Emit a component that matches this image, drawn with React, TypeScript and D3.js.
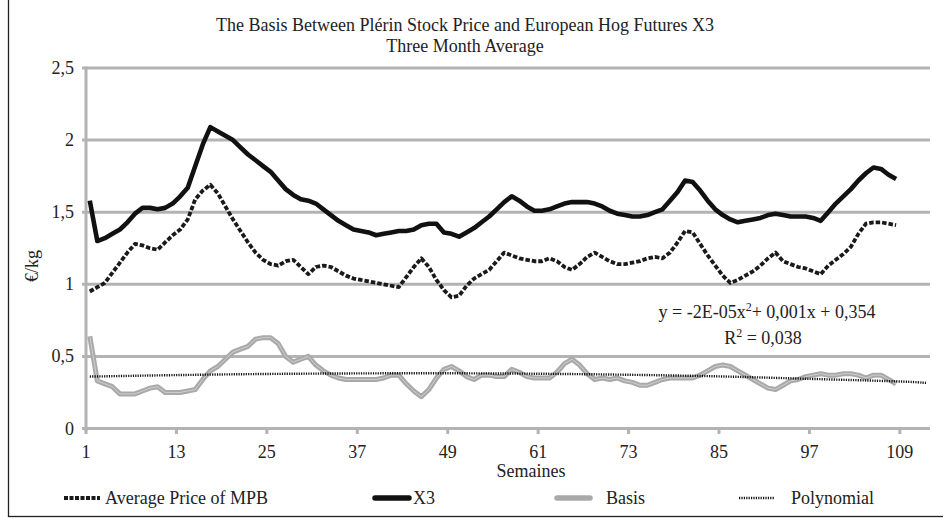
import React, { useEffect, useRef } from "react";
import * as d3 from "d3";

const W = 943;
const H = 519;

// weekly values (weeks 1..108)
const x3 = [
  1.58, 1.30, 1.32, 1.35, 1.38, 1.43, 1.49, 1.53, 1.53, 1.52,
  1.53, 1.56, 1.61, 1.67, 1.82, 1.97, 2.09, 2.06, 2.03, 2.00,
  1.95, 1.90, 1.86, 1.82, 1.78, 1.72, 1.66, 1.62, 1.59, 1.58,
  1.56, 1.52, 1.48, 1.44, 1.41, 1.38, 1.37, 1.36, 1.34, 1.35,
  1.36, 1.37, 1.37, 1.38, 1.41, 1.42, 1.42, 1.36, 1.35, 1.33,
  1.36, 1.39, 1.43, 1.47, 1.52, 1.57, 1.61, 1.58, 1.54, 1.51,
  1.51, 1.52, 1.54, 1.56, 1.57, 1.57, 1.57, 1.56, 1.54, 1.51,
  1.49, 1.48, 1.47, 1.47, 1.48, 1.50, 1.52, 1.58, 1.64, 1.72,
  1.71, 1.65, 1.58, 1.52, 1.48, 1.45, 1.43, 1.44, 1.45, 1.46,
  1.48, 1.49, 1.48, 1.47, 1.47, 1.47, 1.46, 1.44, 1.50, 1.56,
  1.61, 1.66, 1.72, 1.77, 1.81, 1.80, 1.76, 1.73,
];

const mpb = [
  0.95, 0.98, 1.01, 1.08, 1.15, 1.22, 1.28, 1.27, 1.25, 1.24,
  1.29, 1.34, 1.38, 1.45, 1.59, 1.65, 1.69, 1.63, 1.54, 1.45,
  1.37, 1.29, 1.22, 1.17, 1.14, 1.13, 1.16, 1.17, 1.12, 1.07,
  1.12, 1.13, 1.12, 1.09, 1.06, 1.04, 1.03, 1.02, 1.01, 1.00,
  0.99, 0.98, 1.05, 1.12, 1.18, 1.12, 1.03, 0.96, 0.91, 0.92,
  0.99, 1.04, 1.07, 1.10, 1.16, 1.22, 1.20, 1.18, 1.17, 1.16,
  1.16, 1.18, 1.16, 1.12, 1.10, 1.14, 1.19, 1.22, 1.19, 1.16,
  1.14, 1.14, 1.15, 1.16, 1.18, 1.19, 1.18, 1.22, 1.29, 1.37,
  1.36, 1.28, 1.20, 1.13, 1.06, 1.01, 1.03, 1.06, 1.09, 1.13,
  1.18, 1.22, 1.16, 1.14, 1.12, 1.11, 1.09, 1.07, 1.13, 1.17,
  1.21, 1.26, 1.35, 1.42, 1.43, 1.43, 1.42, 1.41,
];

const basis = [
  0.64, 0.33, 0.31, 0.29, 0.24, 0.24, 0.24, 0.26, 0.28, 0.29,
  0.25, 0.25, 0.25, 0.26, 0.27, 0.34, 0.40, 0.43, 0.48, 0.53,
  0.55, 0.57, 0.62, 0.63, 0.63, 0.59, 0.50, 0.46, 0.48, 0.50,
  0.44, 0.40, 0.37, 0.35, 0.34, 0.34, 0.34, 0.34, 0.34, 0.35,
  0.37, 0.37, 0.31, 0.26, 0.22, 0.27, 0.35, 0.41, 0.43, 0.40,
  0.36, 0.34, 0.37, 0.37, 0.36, 0.36, 0.41, 0.39, 0.36, 0.35,
  0.35, 0.35, 0.39, 0.45, 0.48, 0.44, 0.38, 0.34, 0.35, 0.34,
  0.35, 0.33, 0.32, 0.30, 0.30, 0.32, 0.34, 0.35, 0.35, 0.35,
  0.35, 0.37, 0.40, 0.43, 0.44, 0.43, 0.40, 0.37, 0.34, 0.31,
  0.28, 0.27, 0.30, 0.33, 0.34, 0.36, 0.37, 0.38, 0.37, 0.37,
  0.38, 0.38, 0.37, 0.35, 0.37, 0.37, 0.34, 0.31,
];

// polynomial trend line, read at a few weeks
const polyWeeks = [1, 12, 24, 36, 48, 60, 72, 84, 96, 108, 112];
const polyValues = [0.36, 0.37, 0.378, 0.382, 0.383, 0.38, 0.373, 0.362, 0.345, 0.327, 0.316];

const xTicks = [1, 13, 25, 37, 49, 61, 73, 85, 97, 109];
const yTicks = [0, 0.5, 1, 1.5, 2, 2.5];
const nCategories = 112;

const FONT = "'Liberation Serif', 'DejaVu Serif', serif";
const FS = "18px";
const GRID = "#b3b3b3";
const INK = "#222";

export default function App() {
  const svgRef = useRef<SVGSVGElement>(null);

  useEffect(() => {
    if (!svgRef.current) return;
    const svg = d3.select(svgRef.current);
    svg.selectAll("*").remove();

    const x = d3.scaleLinear().domain([0, nCategories]).range([86, 930]);
    const y = d3.scaleLinear().domain([0, 2.5]).range([428.5, 68]);
    const px = (w: number) => x(w - 0.5);

    // outer frame (only left and bottom fall inside the picture)
    svg.append("rect").attr("x", 8.5).attr("y", -10).attr("width", 960).attr("height", 526.5)
      .attr("fill", "none").attr("stroke", INK).attr("stroke-width", 1.3);

    // title
    svg.append("text").attr("x", 465).attr("y", 31).attr("text-anchor", "middle")
      .style("font-family", FONT).style("font-size", FS).attr("fill", INK)
      .text("The Basis Between Plérin Stock Price and European Hog Futures X3");
    svg.append("text").attr("x", 465).attr("y", 52).attr("text-anchor", "middle")
      .style("font-family", FONT).style("font-size", FS).attr("fill", INK)
      .text("Three Month Average");

    // gridlines + y labels
    yTicks.forEach((t) => {
      svg.append("line").attr("x1", 82).attr("x2", 930).attr("y1", y(t)).attr("y2", y(t))
        .attr("stroke", GRID).attr("stroke-width", 3);
      svg.append("text").attr("x", 74).attr("y", y(t) + 6).attr("text-anchor", "end")
        .style("font-family", FONT).style("font-size", FS).attr("fill", INK)
        .text(String(t).replace(".", ","));
    });

    // axes
    svg.append("line").attr("x1", 86).attr("x2", 86).attr("y1", 66.5).attr("y2", 431)
      .attr("stroke", GRID).attr("stroke-width", 3);
    xTicks.forEach((t) => {
      const xp = x(t - 1);
      svg.append("line").attr("x1", xp).attr("x2", xp).attr("y1", 428).attr("y2", 434)
        .attr("stroke", GRID).attr("stroke-width", 3);
      svg.append("text").attr("x", xp).attr("y", 458).attr("text-anchor", "middle")
        .style("font-family", FONT).style("font-size", FS).attr("fill", INK)
        .text(String(t));
    });

    svg.append("text").attr("x", 531).attr("y", 477).attr("text-anchor", "middle")
      .style("font-family", FONT).style("font-size", FS).attr("fill", INK)
      .text("Semaines");

    svg.append("text").attr("transform", "translate(38,266) rotate(-90)").attr("text-anchor", "middle")
      .style("font-family", FONT).style("font-size", FS).attr("fill", INK)
      .text("€/kg");

    const line = d3.line<number>().x((_, i) => px(i + 1)).y((d) => y(d)).curve(d3.curveLinear);

    // basis: gray with a light inner stripe
    svg.append("path").datum(basis).attr("fill", "none").attr("stroke", "#a9a9a9")
      .attr("stroke-width", 5).attr("stroke-linejoin", "round").attr("d", line);
    svg.append("path").datum(basis).attr("fill", "none").attr("stroke", "#cfcfcf")
      .attr("stroke-width", 1).attr("d", line);

    // polynomial trend
    const polyLine = d3.line<number>().x((_, i) => px(polyWeeks[i])).y((d) => y(d)).curve(d3.curveNatural);
    svg.append("path").datum(polyValues).attr("fill", "none").attr("stroke", "#111")
      .attr("stroke-width", 2.4).attr("stroke-dasharray", "1.2,1.2").attr("d", polyLine);

    // average price of MPB
    svg.append("path").datum(mpb).attr("fill", "none").attr("stroke", "#1a1a1a")
      .attr("stroke-width", 3.8).attr("stroke-dasharray", "4.5,2").attr("stroke-linejoin", "round").attr("d", line);

    // X3
    svg.append("path").datum(x3).attr("fill", "none").attr("stroke", "#111")
      .attr("stroke-width", 4.6).attr("stroke-linejoin", "round").attr("d", line);

    // trend equation
    svg.append("text").attr("x", 767).attr("y", 318).attr("text-anchor", "middle")
      .style("font-family", FONT).style("font-size", FS).attr("fill", INK)
      .call((t) => {
        t.append("tspan").text("y = -2E-05x");
        t.append("tspan").attr("baseline-shift", "super").style("font-size", "12px").text("2");
        t.append("tspan").text("+ 0,001x + 0,354");
      });
    svg.append("text").attr("x", 763).attr("y", 344).attr("text-anchor", "middle")
      .style("font-family", FONT).style("font-size", FS).attr("fill", INK)
      .call((t) => {
        t.append("tspan").text("R");
        t.append("tspan").attr("baseline-shift", "super").style("font-size", "12px").text("2");
        t.append("tspan").text(" = 0,038");
      });

    // legend
    const ly = 498;
    const legend = [
      { label: "Average Price of MPB", x1: 64, x2: 100, tx: 105, stroke: "#1a1a1a", w: 3.8, dash: "4,1.5", cap: "butt" },
      { label: "X3", x1: 375, x2: 409, tx: 413, stroke: "#111", w: 5.5, dash: null, cap: "round" },
      { label: "Basis", x1: 557, x2: 590, tx: 606, stroke: "#a9a9a9", w: 5.5, dash: null, cap: "round" },
      { label: "Polynomial", x1: 739, x2: 775, tx: 791, stroke: "#111", w: 2.4, dash: "1.2,1.2", cap: "butt" },
    ];
    legend.forEach((l) => {
      const ln = svg.append("line").attr("x1", l.x1).attr("x2", l.x2).attr("y1", ly).attr("y2", ly)
        .attr("stroke", l.stroke).attr("stroke-width", l.w).attr("stroke-linecap", l.cap);
      if (l.dash) ln.attr("stroke-dasharray", l.dash);
      svg.append("text").attr("x", l.tx).attr("y", ly + 6)
        .style("font-family", FONT).style("font-size", FS).attr("fill", INK)
        .text(l.label);
    });
  }, []);

  return (
    <svg ref={svgRef} width={W} height={H}
      style={{ position: "absolute", left: 0, top: 0, background: "#fff" }} />
  );
}
